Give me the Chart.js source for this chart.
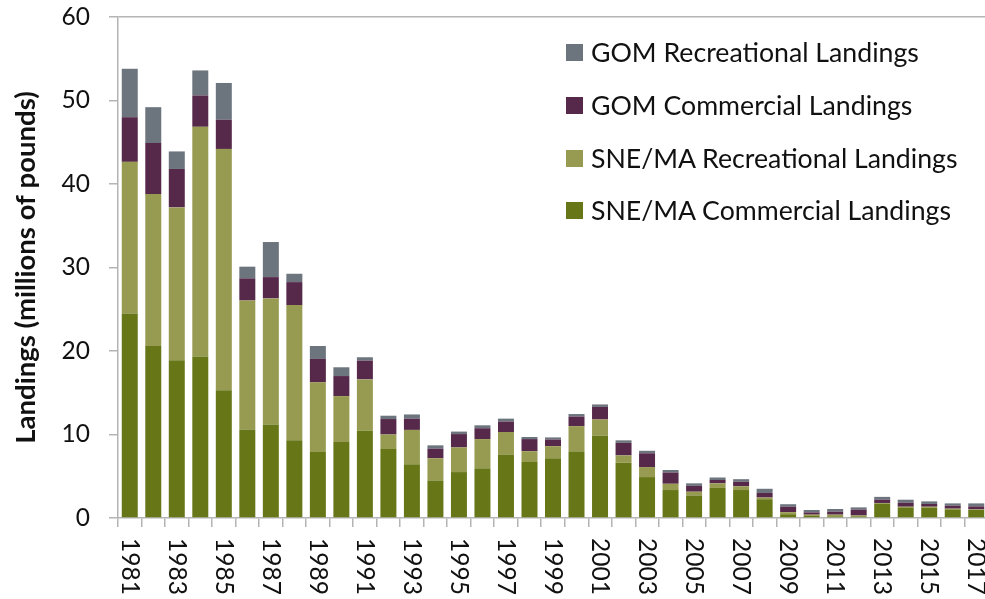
<!DOCTYPE html>
<html>
<head>
<meta charset="utf-8">
<script src="https://cdn.jsdelivr.net/npm/chart.js@4.4.1/dist/chart.umd.min.js"></script>
<style>
  html, body { margin: 0; padding: 0; background: #fff; overflow: hidden; }
  #wrap { position: relative; width: 990px; height: 599px; }
  #legend { position: absolute; left: 566px; top: 0; font-family: Lato, sans-serif; font-size: 26.7px; color: #111; }
  #legend .row { position: absolute; left: 0; white-space: nowrap; display: flex; align-items: center; height: 30px; }
  #legend .box { width: 17px; height: 17px; margin-right: 8px; }
</style>
</head>
<body>
<div id="wrap">
  <canvas id="landings"></canvas>
  <div id="legend"></div>
</div>
<script>
const years = ['1981','1982','1983','1984','1985','1986','1987','1988','1989','1990',
  '1991','1992','1993','1994','1995','1996','1997','1998','1999','2000',
  '2001','2002','2003','2004','2005','2006','2007','2008','2009','2010',
  '2011','2012','2013','2014','2015','2016','2017'];

// millions of pounds, by region and sector
const sneCommercial = [24.5, 20.6, 18.9, 19.35, 15.3, 10.6, 11.2, 9.3, 7.9, 9.1,
  10.45, 8.25, 6.45, 4.5, 5.5, 5.95, 7.6, 6.7, 7.15, 7.95,
  9.85, 6.6, 4.9, 3.35, 2.7, 3.6, 3.35, 2.25, 0.45, 0.25,
  0.2, 0.2, 1.7, 1.27, 1.23, 1.03, 0.96];
const sneRecreational = [18.15, 18.2, 18.3, 27.5, 28.9, 15.45, 15.1, 16.2, 8.35, 5.5,
  6.15, 1.75, 4.1, 2.65, 2.95, 3.5, 2.7, 1.3, 1.45, 3.05,
  1.95, 0.9, 1.2, 0.75, 0.45, 0.55, 0.45, 0.2, 0.25, 0.15,
  0.2, 0.1, 0.1, 0.08, 0.12, 0.09, 0.07];
const gomCommercial = [5.35, 6.1, 4.6, 3.75, 3.5, 2.65, 2.55, 2.75, 2.8, 2.4,
  2.25, 1.85, 1.35, 1.15, 1.6, 1.3, 1.25, 1.45, 0.8, 1.15,
  1.5, 1.5, 1.65, 1.35, 0.7, 0.4, 0.55, 0.55, 0.65, 0.27,
  0.36, 0.7, 0.4, 0.48, 0.33, 0.35, 0.36];
const gomRecreational = [5.8, 4.3, 2.1, 3.0, 4.4, 1.4, 4.2, 1.0, 1.55, 1.05,
  0.4, 0.4, 0.5, 0.4, 0.3, 0.35, 0.35, 0.25, 0.25, 0.3,
  0.3, 0.3, 0.3, 0.3, 0.3, 0.3, 0.3, 0.5, 0.3, 0.29,
  0.32, 0.27, 0.33, 0.36, 0.31, 0.28, 0.36];

const yTicks = [0, 10, 20, 30, 40, 50, 60];

// bottom of the stack first
const series = [
  { label: 'SNE/MA Commercial Landings', data: sneCommercial, color: '#677718' },
  { label: 'SNE/MA Recreational Landings', data: sneRecreational, color: '#979b51' },
  { label: 'GOM Commercial Landings', data: gomCommercial, color: '#56294a' },
  { label: 'GOM Recreational Landings', data: gomRecreational, color: '#6c747d' }
];

const axisGray = '#b4b4b4';
const textColor = '#111';

// year labels turned clockwise, plus the y-axis title
const axisText = {
  id: 'axisText',
  afterDraw(chart) {
    const ctx = chart.ctx;
    const x = chart.scales.x;
    const area = chart.chartArea;
    ctx.save();
    ctx.fillStyle = textColor;
    ctx.font = '24.5px Lato, sans-serif';
    ctx.textAlign = 'left';
    ctx.textBaseline = 'middle';
    years.forEach((yr, i) => {
      if (i % 2) return;
      ctx.save();
      ctx.translate(x.getPixelForValue(i), x.top + 20);
      ctx.rotate(Math.PI / 2);
      ctx.fillText(yr, 0, 0);
      ctx.restore();
    });
    ctx.font = 'bold 27.5px Lato, sans-serif';
    ctx.textAlign = 'center';
    ctx.translate(26, (area.top + area.bottom) / 2);
    ctx.rotate(-Math.PI / 2);
    ctx.fillText('Landings (millions of pounds)', 0, 0);
    ctx.restore();
  }
};

new Chart(document.getElementById('landings'), {
  type: 'bar',
  data: {
    labels: years,
    datasets: series.map(s => ({
      label: s.label,
      data: s.data,
      backgroundColor: s.color,
      borderWidth: 0,
      categoryPercentage: 0.68,
      barPercentage: 1.0
    }))
  },
  options: {
    responsive: true,
    maintainAspectRatio: false,
    animation: false,
    layout: { padding: { top: 17, right: 2, left: 0, bottom: 0 } },
    plugins: { legend: { display: false }, tooltip: { enabled: false } },
    scales: {
      x: {
        stacked: true,
        afterFit: (s) => { s.height = 81; s.paddingLeft = 0; s.paddingRight = 0; },
        ticks: { display: false },
        grid: { offset: true, drawOnChartArea: false, tickColor: axisGray, tickLength: 9, lineWidth: 1.5 },
        border: { color: axisGray, width: 1.5 }
      },
      y: {
        stacked: true,
        min: 0,
        max: 60,
        afterFit: (s) => { s.width = 118; s.paddingTop = 0; s.paddingBottom = 0; },
        afterBuildTicks: (s) => { s.ticks = yTicks.map(v => ({ value: v })); },
        ticks: { color: textColor, font: { family: 'Lato, sans-serif', size: 24.5 }, padding: 19 },
        grid: {
          color: (c) => (c.tick && c.tick.value === 60 ? axisGray : 'rgba(0,0,0,0)'),
          tickColor: axisGray,
          tickLength: 9,
          lineWidth: 1.5
        },
        border: { color: axisGray, width: 1.5 }
      }
    }
  },
  plugins: [axisText]
});

// legend lists the top of the stack first
const legendTops = [37, 90, 143, 195];
const legend = document.getElementById('legend');
series.slice().reverse().forEach((s, i) => {
  const row = document.createElement('div');
  row.className = 'row';
  row.style.top = legendTops[i] + 'px';
  const box = document.createElement('span');
  box.className = 'box';
  box.style.background = s.color;
  const txt = document.createElement('span');
  txt.textContent = s.label;
  row.appendChild(box);
  row.appendChild(txt);
  legend.appendChild(row);
});
</script>
</body>
</html>
